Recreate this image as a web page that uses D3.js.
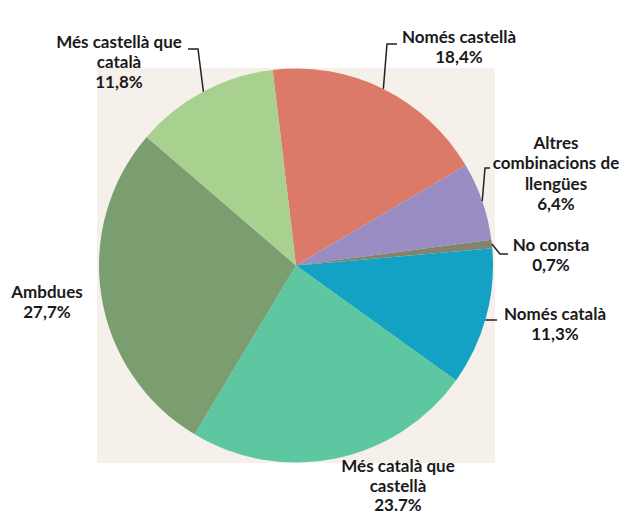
<!DOCTYPE html>
<html><head><meta charset="utf-8">
<script src="https://cdn.jsdelivr.net/npm/d3@7/dist/d3.min.js"></script>
<style>body{margin:0;background:#fff}svg{display:block}</style>
</head><body>
<script>
const categories = ["Només castellà","Altres combinacions de llengües","No consta","Només català","Més català que castellà","Ambdues","Més castellà que català"];
const values = [18.4, 6.4, 0.7, 11.3, 23.7, 27.7, 11.8];
const valueLabels = ["18,4%","6,4%","0,7%","11,3%","23.7%","27,7%","11,8%"];
const labelLines = [["Només castellà"],["Altres","combinacions de","llengües"],["No consta"],["Només català"],["Més català que","castellà"],["Ambdues"],["Més castellà que","català"]];
const colors = ["#DB7A69","#9A8DC3","#85826E","#13A2C3","#5DC7A1","#7A9E6F","#A8D08E"];

// layout (text centre, first baseline, line height) and leader paths
const layout = [
  {x:459, y:43, lh:20, leader:[[387,44],[397,44]]},
  {x:556, y:149, lh:20.3, leader:[[485,168],[490,168]]},
  {x:551, y:251, lh:20, leader:[[500,254],[508,254]]},
  {x:555, y:320, lh:20, leader:[[497,320]]},
  {x:398, y:472, lh:19.6, leader:null},
  {x:47, y:298, lh:20, leader:null},
  {x:119, y:48, lh:20, leader:[[198,49],[188,49]]}
];

const W=625,H=516, cx=296, cy=265.5, R=197;
const svg=d3.select("body").append("svg").attr("width",W).attr("height",H);
svg.append("rect").attr("x",97).attr("y",68).attr("width",398).attr("height",395).attr("fill","#F5F0EA");

const start=-6.8*Math.PI/180;
const pie=d3.pie().sort(null).startAngle(start).endAngle(start+2*Math.PI);
const arcs=pie(values);
const arc=d3.arc().innerRadius(0).outerRadius(R);
const g=svg.append("g").attr("transform",`translate(${cx},${cy})`);
g.selectAll("path").data(arcs).join("path").attr("d",arc).attr("fill",(d,i)=>colors[i]);

arcs.forEach((a,i)=>{
  const L=layout[i];
  if(L.leader){
    const m=(a.startAngle+a.endAngle)/2;
    let px=cx+R*Math.sin(m), py=cy-R*Math.cos(m);
    if(i===3){py=320; px=cx+Math.sqrt(R*R-(py-cy)*(py-cy));}
    const pts=[[px,py]].concat(L.leader);
    svg.append("path").attr("d",d3.line()(pts)).attr("fill","none").attr("stroke","#222").attr("stroke-width",1.5);
  }
  const lines=labelLines[i].concat([valueLabels[i]]);
  const t=svg.append("text").attr("text-anchor","middle").attr("font-family","Lato, 'Noto Sans', sans-serif").attr("font-weight","bold").attr("font-size",17).attr("fill","#1a1a1a");
  lines.forEach((s,k)=>t.append("tspan").attr("x",L.x).attr("y",L.y+k*L.lh).text(s));
});
</script>
</body></html>
